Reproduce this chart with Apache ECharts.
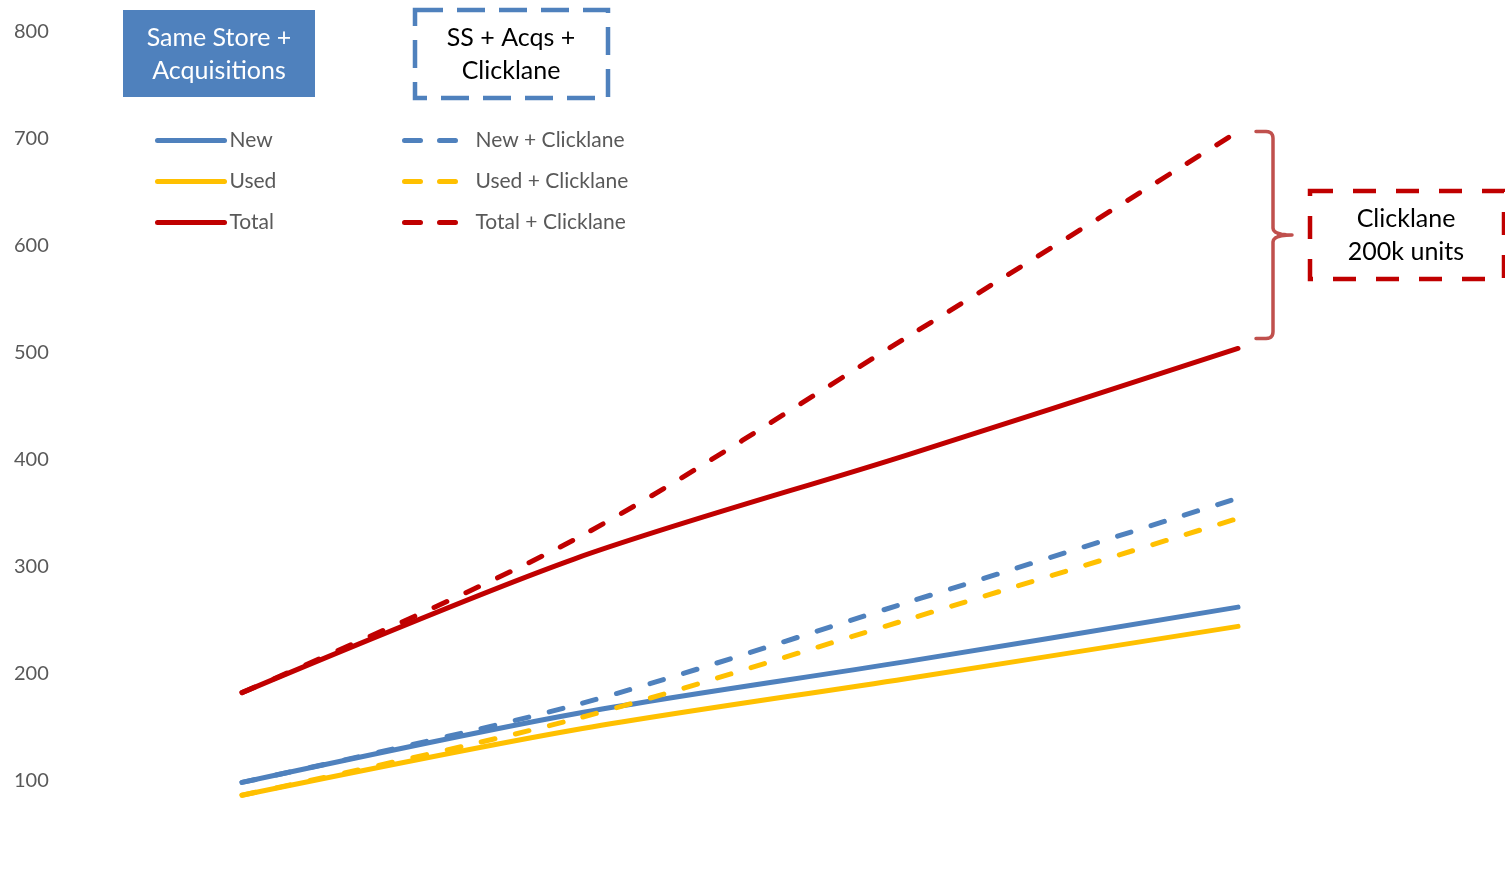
<!DOCTYPE html>
<html>
<head>
<meta charset="utf-8">
<script src="https://cdn.jsdelivr.net/npm/echarts@6/dist/echarts.min.js"></script>
<style>
html,body{margin:0;padding:0;background:#fff;}
#chart{width:1505px;height:885px;}
</style>
</head>
<body>
<div id="chart"></div>
<script>
// ---- data ----
var categories = ['P1', 'P2', 'P3', 'P4'];
var newUnits = [96, 160, 209, 260];
var usedUnits = [84, 145, 193, 242];
var totalUnits = [180, 305, 402, 502];
var newClicklane = [96, 168, 264, 362];
var usedClicklane = [84, 155, 248, 343];
var totalClicklane = [180, 323, 512, 705];
var yTicks = [0, 100, 200, 300, 400, 500, 600, 700, 800];

(function () {
var BLUE = '#4F81BD', YELLOW = '#FFC000', RED = '#C00000', GREY = '#595959';
var FONT = 'Lato';

function lineSeries(name, data, color, dashed) {
  return {
    name: name,
    type: 'line',
    data: data,
    smooth: 0.3,
    symbol: 'none',
    showSymbol: false,
    clip: false,
    silent: true,
    lineStyle: {
      color: color,
      width: 5,
      type: dashed ? [14, 21] : 'solid',
      cap: 'round',
      join: 'round'
    },
    itemStyle: {color: color}
  };
}

var chart = echarts.init(document.getElementById('chart'), null, {renderer: 'canvas'});

var option = {
  animation: false,
  backgroundColor: '#ffffff',
  grid: {left: 242, width: 996, top: 30, height: 856, containLabel: false},
  xAxis: {
    type: 'category',
    data: categories,
    boundaryGap: false,
    axisLine: {show: false},
    axisTick: {show: false},
    axisLabel: {show: false},
    splitLine: {show: false}
  },
  yAxis: {
    type: 'value',
    min: yTicks[0],
    max: yTicks[yTicks.length - 1],
    interval: 100,
    axisLine: {show: false},
    axisTick: {show: false},
    splitLine: {show: false},
    axisLabel: {
      align: 'left',
      margin: 228,
      formatter: function (v) { return v === 0 ? '' : '{t|' + v + '}'; },
      rich: {
        t: {color: GREY, fontFamily: FONT, fontSize: 20, padding: [4, 0, 0, 0]}
      }
    }
  },
  legend: [
    {
      data: ['New', 'Used', 'Total'],
      orient: 'vertical',
      left: 155,
      top: 130,
      padding: 0,
      itemWidth: 67,
      itemHeight: 14,
      itemGap: 20,
      itemTextGap: 7,
      selectedMode: false,
      itemStyle: {opacity: 0},
      lineStyle: {width: 5, cap: 'round'},
      textStyle: {color: GREY, fontFamily: FONT, fontSize: 21, lineHeight: 20}
    },
    {
      data: ['New + Clicklane', 'Used + Clicklane', 'Total + Clicklane'],
      orient: 'vertical',
      left: 402,
      top: 130,
      padding: 0,
      itemWidth: 53,
      itemHeight: 14,
      itemGap: 20,
      itemTextGap: 7,
      selectedMode: false,
      itemStyle: {opacity: 0},
      lineStyle: {width: 5, cap: 'round', type: [16, 19]},
      textStyle: {color: GREY, fontFamily: FONT, fontSize: 21, lineHeight: 20, padding: [0, 0, 0, 13]}
    }
  ],
  series: [
    lineSeries('New', newUnits, BLUE, false),
    lineSeries('Used', usedUnits, YELLOW, false),
    lineSeries('Total', totalUnits, RED, false),
    lineSeries('New + Clicklane', newClicklane, BLUE, true),
    lineSeries('Used + Clicklane', usedClicklane, YELLOW, true),
    lineSeries('Total + Clicklane', totalClicklane, RED, true)
  ]
};

chart.setOption(option);

// ---- annotations ----
var last = categories.length - 1;
var pTop = chart.convertToPixel({gridIndex: 0}, [last, totalClicklane[last]]);
var pBot = chart.convertToPixel({gridIndex: 0}, [last, totalUnits[last]]);
var yTop = pTop[1], yBot = pBot[1] - 10, yMid = (yTop + yBot) / 2;
var xl = pTop[0] + 18, xv = pTop[0] + 35, xt = pTop[0] + 54;

function quad(p0, c, p1, n) {
  var pts = [];
  for (var i = 1; i <= n; i++) {
    var t = i / n, u = 1 - t;
    pts.push([u * u * p0[0] + 2 * u * t * c[0] + t * t * p1[0],
              u * u * p0[1] + 2 * u * t * c[1] + t * t * p1[1]]);
  }
  return pts;
}
var r = 7;
var bracePts = [[xl, yTop], [xv - r, yTop]]
  .concat(quad([xv - r, yTop], [xv, yTop], [xv, yTop + r], 6))
  .concat([[xv, yMid - r]])
  .concat(quad([xv, yMid - r], [xv, yMid], [xt, yMid], 6))
  .concat(quad([xt, yMid], [xv, yMid], [xv, yMid + r], 6))
  .concat([[xv, yBot - r]])
  .concat(quad([xv, yBot - r], [xv, yBot], [xv - r, yBot], 6))
  .concat([[xl, yBot]]);

var boxText = {fontFamily: FONT, fontSize: 25, lineHeight: 33, align: 'center', verticalAlign: 'middle'};

chart.setOption({
  graphic: [
    {type: 'rect', shape: {x: 123, y: 10, width: 192, height: 87}, style: {fill: BLUE}},
    {type: 'text', x: 219, y: 54, style: Object.assign({text: 'Same Store +\nAcquisitions', fill: '#ffffff'}, boxText)},
    {type: 'rect', shape: {x: 415, y: 10, width: 193, height: 88},
      style: {fill: 'none', stroke: BLUE, lineWidth: 4.5, lineDash: [28, 14]}},
    {type: 'text', x: 511, y: 54, style: Object.assign({text: 'SS + Acqs +\nClicklane', fill: '#000000'}, boxText)},
    {type: 'rect', shape: {x: 1310, y: 191, width: 194, height: 88},
      style: {fill: 'none', stroke: RED, lineWidth: 4.5, lineDash: [23, 20]}},
    {type: 'text', x: 1406, y: 235, style: Object.assign({text: 'Clicklane\n200k units', fill: '#000000'}, boxText)},
    {type: 'polyline', shape: {points: bracePts},
      style: {fill: 'none', stroke: '#C0504D', lineWidth: 3.5, lineCap: 'round', lineJoin: 'round'}}
  ]
});
})();
</script>
</body>
</html>
